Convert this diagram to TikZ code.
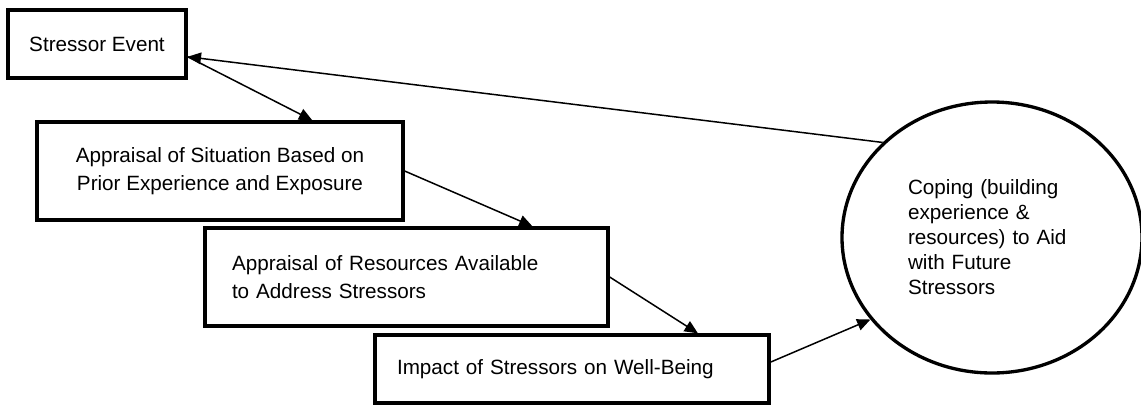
\documentclass[tikz,border=0pt]{standalone}
\usepackage{fontspec}
\setmainfont{Liberation Sans}
\usetikzlibrary{shapes.geometric}
\usetikzlibrary{arrows.meta}
\usetikzlibrary{calc}

\begin{document}
\begin{tikzpicture}[x=0.6pt, y=-0.6pt,
    stagebox/.style={draw, line width=2pt, font=\fontsize{12.4pt}{16.5pt}\selectfont},
    flow/.style={line width=0.9pt, -{Triangle[length=8pt,width=7pt]}}]
	\useasboundingbox (0,0) rectangle (1141,404);
    \node[stagebox, minimum width=106.8pt, minimum height=40.8pt] (sevt) at (97,44) {Stressor Event};
    \node[stagebox, minimum width=219.6pt, minimum height=58.8pt, align=center] (appsit) at (220,171) {Appraisal of Situation Based on\\Prior Experience and Exposure};
    \node[stagebox, minimum width=241.8pt, minimum height=58.8pt, text width=209.4pt, align=left] (appres) at (406.5,277) {Appraisal of Resources Available\\to Address Stressors};
    \node[stagebox, minimum width=236.4pt, minimum height=40.8pt, text width=210pt, align=left] (impact) at (572,369) {Impact of Stressors on Well-Being};
    \node[ellipse, draw, line width=2pt, minimum width=180pt, minimum height=162.6pt, text width=100.8pt, align=left, font=\fontsize{12.4pt}{15pt}\selectfont] (coping) at (992,237.5) {Coping (building\\experience \&\\resources) to Aid\\with Future\\Stressors};
    \draw[flow] (sevt.-8) -- ($(appsit.north west)!0.75!(appsit.north east)$);
    \draw[flow] (appsit.east) -- ($(appres.north west)!0.81!(appres.north east)$);
    \draw[flow] (appres.east) -- ($(impact.north west)!0.817!(impact.north east)$);
    \draw[flow] (impact.2) -- (coping.214);
    \draw[flow] (coping.139) -- (sevt.-8);
\end{tikzpicture}
\end{document}
